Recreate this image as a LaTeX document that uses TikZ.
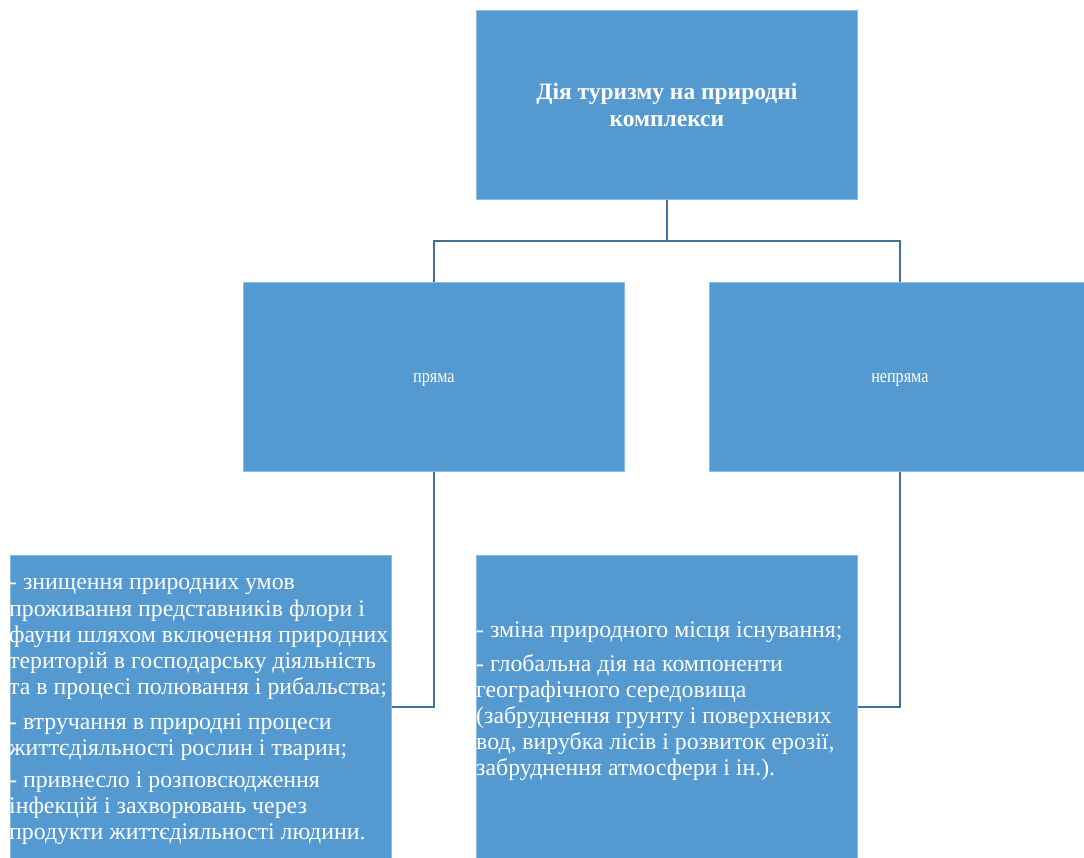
\documentclass[tikz,border=0pt]{standalone}
\usepackage{fontspec}
\setmainfont{Liberation Serif}
\newfontfamily\tnr{Liberation Serif}
\definecolor{boxfill}{HTML}{5599D1}
\definecolor{boxedge}{HTML}{8DBBE2}
\definecolor{linkcol}{HTML}{41709A}
\begin{document}
\begin{tikzpicture}[x=1pt,y=-1pt,
  blbox/.style={draw=boxedge,line width=0.8pt,fill=boxfill,text=white,
    anchor=north west,minimum width=381pt,inner sep=0pt},
  bodytext/.style={text=white,anchor=north west,inner sep=0pt,align=left,
    font=\tnr\fontsize{23.8}{26.1}\selectfont},
  smalllabel/.style={text=white,inner sep=0pt,font=\tnr\fontsize{19}{22}\selectfont},
  link/.style={draw=linkcol,line width=1.6pt}]
\useasboundingbox (0,0) rectangle (1084,858);
\node[blbox,minimum height=189pt,align=center,font=\tnr\fontsize{23.5}{27}\selectfont\bfseries] (top) at (476,10)
  {Дія туризму на природні\\комплекси};
\node[blbox,minimum height=189pt] (pr) at (243,282) {};
\node[blbox,minimum height=189pt] (np) at (709,282) {};
\node[smalllabel] (prt) at ([yshift=-3pt]pr.center) {\scalebox{0.85}[1]{пряма}};
\node[smalllabel] (npt) at ([yshift=-3pt]np.center) {\scalebox{0.85}[1]{непряма}};
\node[blbox,minimum height=303pt] (lb) at (10,555) {};
\node[blbox,minimum height=303pt] (mb) at (476,555) {};
\node[bodytext] (lbt) at (9,578.5)
  {- знищення природних умов\\
   проживання представників флори і\\
   фауни шляхом включення природних\\
   територій в господарську діяльність\\
   та в процесі полювання і рибальства;\\[9pt]
   - втручання в природні процеси\\
   життєдіяльності рослин і тварин;\\[6pt]
   - привнесло і розповсюдження\\
   інфекцій і захворювань через\\
   продукти життєдіяльності людини.};
\node[bodytext] (mbt) at (476,622)
  {- зміна природного місця існування;\\[7pt]
   - глобальна дія на компоненти\\
   географічного середовища\\
   (забруднення грунту і поверхневих\\
   вод, вирубка лісів і розвиток ерозії,\\
   забруднення атмосфери і ін.).};
\coordinate (j) at ([yshift=-41pt]top.south);
\draw[link] (top.south) -- (j) -| (pr.north);
\draw[link] (j) -| (np.north);
\draw[link] (pr.south) |- (lb.east);
\draw[link] (np.south) |- (mb.east);
\end{tikzpicture}
\end{document}
